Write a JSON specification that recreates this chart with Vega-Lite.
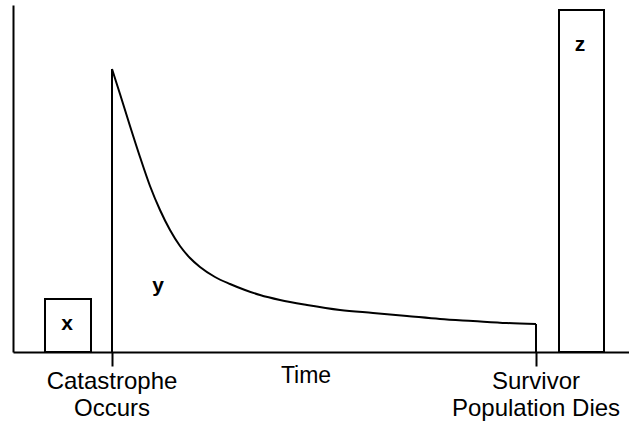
{
  "$schema": "https://vega.github.io/schema/vega-lite/v6.json",
  "autosize": "none",
  "width": 616,
  "height": 347,
  "padding": {"left": 13, "top": 5, "right": 0, "bottom": 71},
  "background": "white",
  "config": {"view": {"stroke": null}},
  "datasets": {
    "curve": [
      {"t": 99, "v": 283}, {"t": 107, "v": 258}, {"t": 117, "v": 226}, {"t": 127, "v": 195},
      {"t": 137, "v": 166}, {"t": 147, "v": 142}, {"t": 157, "v": 122}, {"t": 167, "v": 106},
      {"t": 177, "v": 94}, {"t": 187, "v": 85}, {"t": 202, "v": 75}, {"t": 217, "v": 68},
      {"t": 232, "v": 62}, {"t": 247, "v": 57}, {"t": 267, "v": 52}, {"t": 294, "v": 47},
      {"t": 327, "v": 42}, {"t": 360, "v": 39}, {"t": 394, "v": 36}, {"t": 427, "v": 33},
      {"t": 460, "v": 31}, {"t": 494, "v": 29}, {"t": 523, "v": 28}
    ],
    "bars": [
      {"name": "x", "start": 32, "end": 78, "top": 53, "base": 0},
      {"name": "z", "start": 546, "end": 591, "top": 342, "base": 0}
    ],
    "rules": [
      {"t": 99, "top": 283, "base": 0},
      {"t": 523, "top": 28, "base": 0}
    ],
    "letters": [
      {"label": "x", "t": 54, "v": 28},
      {"label": "y", "t": 145, "v": 66},
      {"label": "z", "t": 567, "v": 307}
    ],
    "labels": [
      {"label": "Catastrophe", "t": 99, "v": -37},
      {"label": "Occurs", "t": 99, "v": -64},
      {"label": "Survivor", "t": 523, "v": -37},
      {"label": "Population Dies", "t": 523, "v": -64}
    ],
    "titles": [
      {"label": "Time", "t": 293, "v": -31}
    ]
  },
  "encoding": {
    "x": {"type": "quantitative", "scale": {"domain": [0, 616], "nice": false, "zero": false},
      "axis": {"values": [99, 523], "labels": false, "title": null, "grid": false, "ticks": true, "tickSize": 14, "tickWidth": 2, "tickColor": "black", "domainColor": "black", "domainWidth": 2}},
    "y": {"type": "quantitative", "scale": {"domain": [0, 347], "nice": false},
      "axis": {"labels": false, "ticks": false, "title": null, "grid": false, "domainColor": "black", "domainWidth": 2}}
  },
  "layer": [
    {
      "data": {"name": "bars"},
      "mark": {"type": "rect", "fill": "white", "stroke": "black", "strokeWidth": 2},
      "encoding": {
        "x": {"field": "start", "type": "quantitative"},
        "x2": {"field": "end"},
        "y": {"field": "top", "type": "quantitative"},
        "y2": {"field": "base"}
      }
    },
    {
      "data": {"name": "rules"},
      "mark": {"type": "rule", "color": "black", "strokeWidth": 2},
      "encoding": {
        "x": {"field": "t", "type": "quantitative"},
        "y": {"field": "top", "type": "quantitative"},
        "y2": {"field": "base"}
      }
    },
    {
      "data": {"name": "curve"},
      "mark": {"type": "line", "color": "black", "strokeWidth": 2, "interpolate": "monotone"},
      "encoding": {
        "x": {"field": "t", "type": "quantitative"},
        "y": {"field": "v", "type": "quantitative"}
      }
    },
    {
      "data": {"name": "letters"},
      "mark": {"type": "text", "font": "Liberation Sans", "fontSize": 21, "fontWeight": "bold", "color": "black", "baseline": "middle", "align": "center"},
      "encoding": {
        "x": {"field": "t", "type": "quantitative"},
        "y": {"field": "v", "type": "quantitative"},
        "text": {"field": "label"}
      }
    },
    {
      "data": {"name": "labels"},
      "mark": {"type": "text", "font": "Liberation Sans", "fontSize": 24, "color": "black", "baseline": "alphabetic", "align": "center", "clip": false},
      "encoding": {
        "x": {"field": "t", "type": "quantitative"},
        "y": {"field": "v", "type": "quantitative"},
        "text": {"field": "label"}
      }
    },
    {
      "data": {"name": "titles"},
      "mark": {"type": "text", "font": "Liberation Sans", "fontSize": 23, "color": "black", "baseline": "alphabetic", "align": "center", "clip": false},
      "encoding": {
        "x": {"field": "t", "type": "quantitative"},
        "y": {"field": "v", "type": "quantitative"},
        "text": {"field": "label"}
      }
    }
  ]
}
